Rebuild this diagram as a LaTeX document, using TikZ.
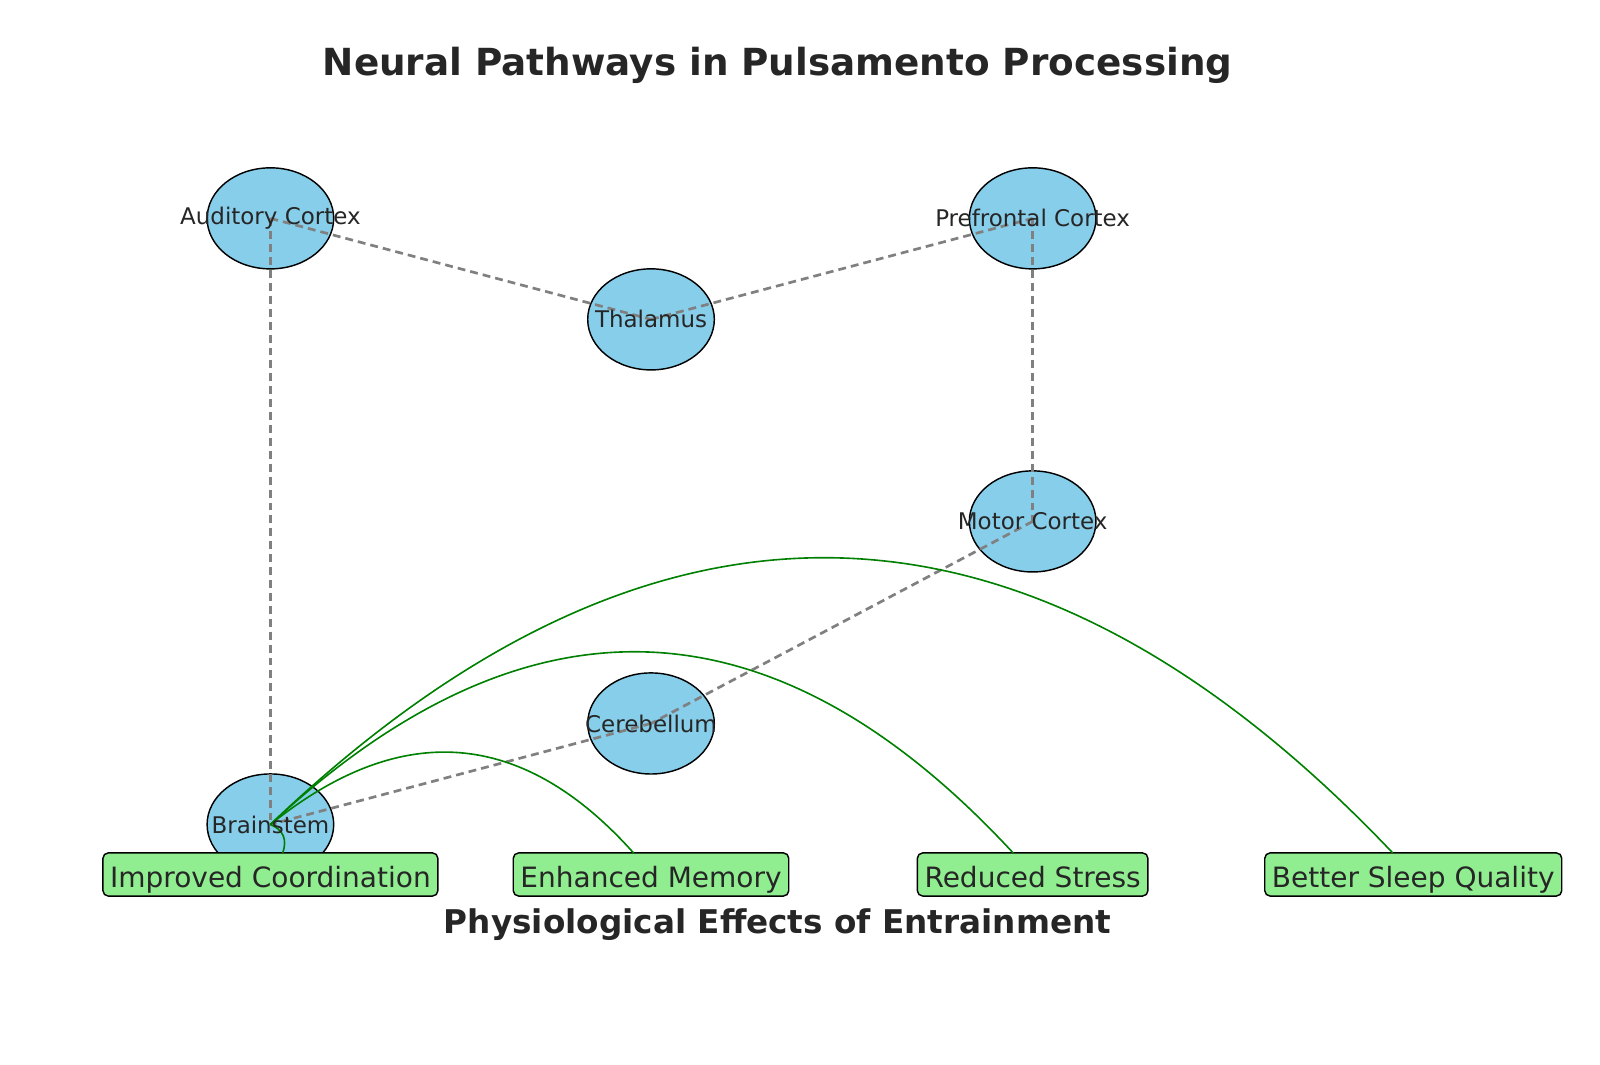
\documentclass[tikz,border=0pt]{standalone}
\usepackage{fontspec}
\setmainfont{DejaVu Sans}
\usetikzlibrary{shapes.geometric}
\definecolor{sky}{HTML}{87CEEB}
\definecolor{lgreen}{HTML}{90EE90}
\definecolor{dgreen}{HTML}{008000}
\definecolor{txt}{HTML}{262626}
\begin{document}
\begin{tikzpicture}[x=0.01cm,y=-0.01cm,
  brain/.style={ellipse,draw=black,fill=sky,line width=0.4pt,minimum width=1.24cm,minimum height=0.99cm,inner sep=0pt},
  lab/.style={text=txt,font=\fontsize{6.4}{7}\selectfont,inner sep=0pt},
  effect/.style={draw=black,fill=lgreen,rounded corners=1.5pt,line width=0.4pt,text=txt,font=\fontsize{7.8}{9}\selectfont,minimum height=0.42cm,inner ysep=0pt,inner xsep=2pt,text height=1.75ex,text depth=0.45ex},
  path/.style={draw=gray,line width=0.75pt,dash pattern=on 2.2pt off 1.4pt},
  eff/.style={draw=dgreen,line width=0.45pt}]
\useasboundingbox (0,0) rectangle (1568,1043);
\node[font=\bfseries\fontsize{10.4}{12}\selectfont,text=txt] (title) at (762,64) {Neural Pathways in Pulsamento Processing};
\node[brain] (aud) at (265,214) {};
\node[brain] (pfc) at (1012,214) {};
\node[brain] (thal) at (638,313) {};
\node[brain] (mot) at (1012,511) {};
\node[brain] (cer) at (638,709) {};
\node[brain] (bs) at (265,808) {};
\draw[path] (aud.center) -- (thal.center);
\draw[path] (thal.center) -- (pfc.center);
\draw[path] (aud.center) -- (bs.center);
\draw[path] (pfc.center) -- (mot.center);
\draw[path] (mot.center) -- (cer.center);
\draw[path] (cer.center) -- (bs.center);
\node[effect] (e1) at (265,857) {Improved Coordination};
\node[effect] (e2) at (638,857) {Enhanced Memory};
\node[effect] (e3) at (1012,857) {Reduced Stress};
\node[effect] (e4) at (1385,857) {Better Sleep Quality};
\coordinate (s1) at (277,836);
\coordinate (s2) at (621,836);
\coordinate (s3) at (993,836);
\coordinate (s4) at (1365,836);
\draw[eff] (s1) .. controls (282,822) and (277,813) .. (bs.center);
\draw[eff] (s2) .. controls (512,714) and (393,705) .. (bs.center);
\draw[eff] (s3) .. controls (759,583) and (517,573) .. (bs.center);
\draw[eff] (s4) .. controls (1008,460) and (640,450) .. (bs.center);
\node[lab] at (aud) {Auditory Cortex};
\node[lab] at (pfc) {Prefrontal Cortex};
\node[lab] at (thal) {Thalamus};
\node[lab] at (mot) {Motor Cortex};
\node[lab] at (cer) {Cerebellum};
\node[lab] at (bs) {Brainstem};
\node[font=\bfseries\fontsize{9.1}{10}\selectfont,text=txt] (sub) at (762,906) {Physiological Effects of Entrainment};
\end{tikzpicture}
\end{document}
